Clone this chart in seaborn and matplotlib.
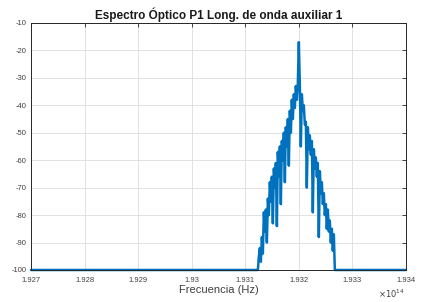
import matplotlib
matplotlib.use("Agg")
import matplotlib.pyplot as plt
import seaborn as sns
import pandas as pd

# Frequency in units of 1e14 Hz
freq = [1.927000,
        1.931235, 1.931254, 1.931272, 1.931291, 1.931310, 1.931328, 1.931347, 1.931366,
        1.931384, 1.931403, 1.931422, 1.931440, 1.931459, 1.931478, 1.931496, 1.931515,
        1.931534, 1.931552, 1.931571, 1.931590, 1.931608, 1.931627, 1.931646, 1.931664,
        1.931683, 1.931701, 1.931720, 1.931739, 1.931757, 1.931776, 1.931795, 1.931813,
        1.931832, 1.931851, 1.931869, 1.931888, 1.931907, 1.931925, 1.931944, 1.931963,
        1.931981, 1.932000, 1.932019, 1.932037, 1.932056, 1.932075, 1.932093, 1.932112,
        1.932131, 1.932149, 1.932168, 1.932187, 1.932205, 1.932224, 1.932243, 1.932261,
        1.932280, 1.932299, 1.932317, 1.932336, 1.932354, 1.932373, 1.932392, 1.932410,
        1.932429, 1.932448, 1.932466, 1.932485, 1.932504, 1.932522, 1.932541, 1.932560,
        1.932578, 1.932597, 1.932616, 1.932634, 1.932653, 1.932672, 1.932690,
        1.934000]

power_db = [-100,
            -100, -95, -92, -97, -88, -94, -79, -86,
            -78, -90, -74, -80, -68, -75, -66, -83,
            -63, -70, -61, -84, -57, -66, -55, -76,
            -53, -60, -50, -68, -48, -55, -45, -62,
            -42, -50, -38, -45, -36, -41, -33, -38,
            -32, -17, -33, -55, -36, -42, -40, -47,
            -46, -70, -48, -56, -51, -58, -53, -79,
            -56, -63, -59, -66, -61, -88, -64, -72,
            -68, -76, -72, -80, -76, -85, -78, -86,
            -82, -90, -85, -93, -87, -100, -100,
            -100]

xticks = [1.927, 1.928, 1.929, 1.930, 1.931, 1.932, 1.933, 1.934]
xtick_labels = ["1.927", "1.928", "1.929", "1.93", "1.931", "1.932", "1.933", "1.934"]
yticks = [-100, -90, -80, -70, -60, -50, -40, -30, -20, -10]
ytick_labels = ["-100", "-90", "-80", "-70", "-60", "-50", "-40", "-30", "-20", "-10"]

df = pd.DataFrame({"freq": freq, "power": power_db})

sns.set_style("whitegrid")
plt.rcParams['font.family'] = ['Liberation Sans', 'DejaVu Sans']

fig = plt.figure(figsize=(4.33, 3.02), dpi=100)
ax = fig.add_axes([0.0716, 0.106, 0.866, 0.818])

sns.lineplot(data=df, x="freq", y="power", sort=False, estimator=None,
             color="#0072BD", linewidth=1.8, ax=ax)

ax.set_xlim(1.927, 1.934)
ax.set_ylim(-100, -10)
ax.set_xticks(xticks)
ax.set_xticklabels(xtick_labels)
ax.set_yticks(yticks)
ax.set_yticklabels(ytick_labels)
ax.tick_params(axis="both", labelsize=5.5, colors="#262626", direction="in",
               length=3, width=0.6, top=True, right=True)
ax.tick_params(axis="x", pad=5)
ax.tick_params(axis="y", pad=3)
for lab in ax.get_xticklabels() + ax.get_yticklabels():
    lab.set_color("#404040")
ax.grid(True, color="#dcdcdc", linewidth=0.6)
for s in ax.spines.values():
    s.set_visible(True)
    s.set_color("#262626")
    s.set_linewidth(0.7)
for line in ax.lines:
    line.set_clip_on(False)

ax.set_title("Espectro Óptico P1 Long. de onda auxiliar 1", fontsize=8.5,
             fontweight="bold", color="#1a1a1a", pad=3)
ax.set_xlabel("Frecuencia (Hz)", fontsize=8, color="#404040", labelpad=1)
ax.set_ylabel("")
fig.text(0.873, 0.008, r"$\times10^{14}$", fontsize=6, color="#404040", ha="left", va="bottom")

fig.savefig("out.png", dpi=100)
